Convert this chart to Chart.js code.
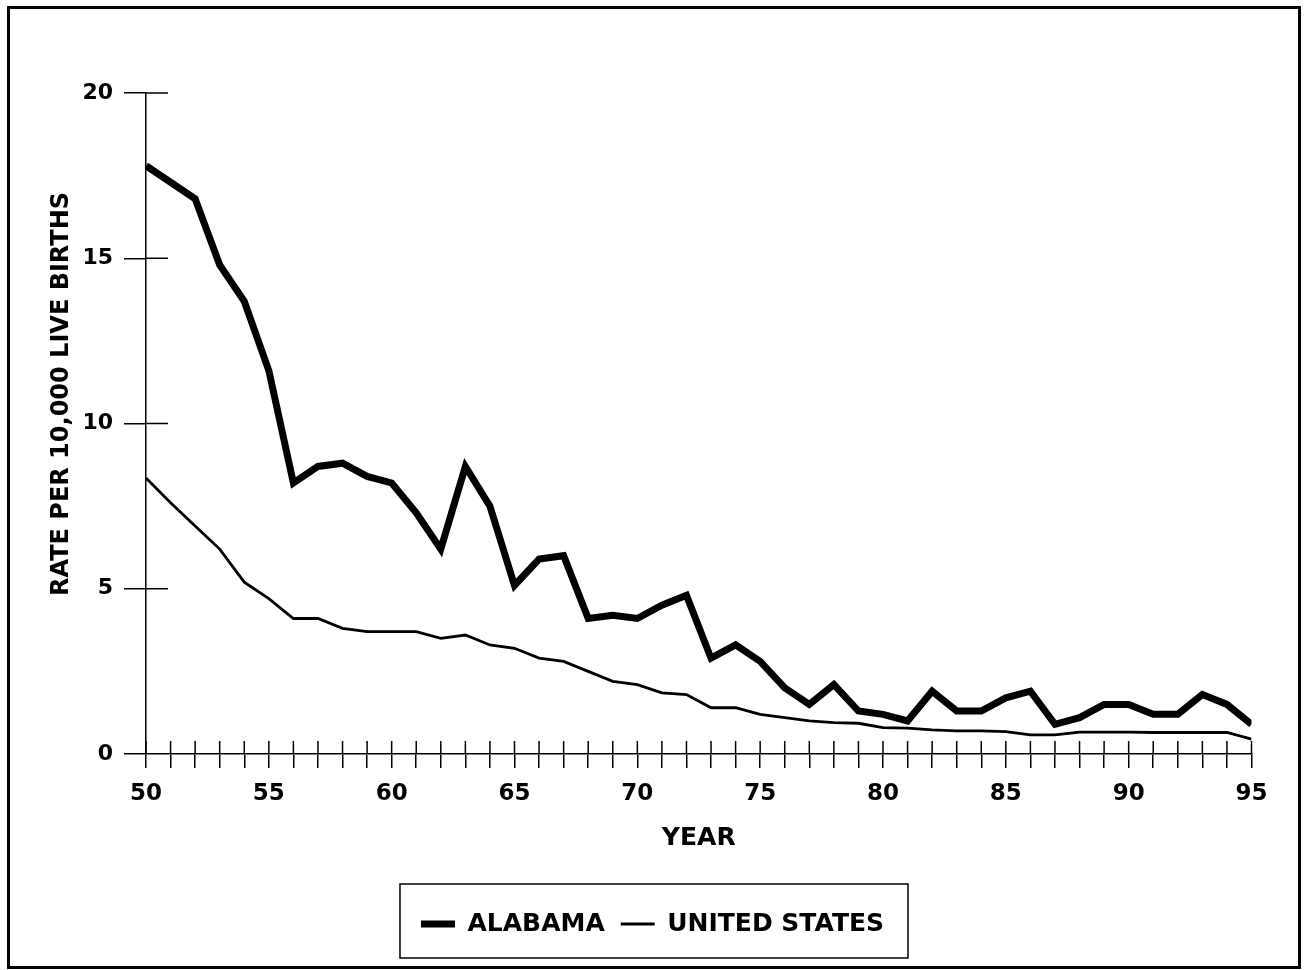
<!DOCTYPE html>
<html>
<head>
<meta charset="utf-8">
<script src="https://cdn.jsdelivr.net/npm/chart.js@4/dist/chart.umd.min.js"></script>
<style>
  html, body { margin: 0; padding: 0; background: #fff; }
  #wrap { position: relative; width: 1305px; height: 970px; }
</style>
</head>
<body>
<div id="wrap"><canvas id="c" width="1305" height="970"></canvas></div>
<script>
const years = [50,51,52,53,54,55,56,57,58,59,60,61,62,63,64,65,66,67,68,69,70,71,72,73,74,75,76,77,78,79,80,81,82,83,84,85,86,87,88,89,90,91,92,93,94,95];
const alabama = [17.8,17.3,16.8,14.8,13.7,11.6,8.2,8.7,8.8,8.4,8.2,7.3,6.2,8.7,7.5,5.1,5.9,6.0,4.1,4.2,4.1,4.5,4.8,2.9,3.3,2.8,2.0,1.5,2.1,1.3,1.2,1.0,1.9,1.3,1.3,1.7,1.9,0.9,1.1,1.5,1.5,1.2,1.2,1.8,1.5,0.9];
const unitedStates = [8.35,7.6,6.9,6.2,5.2,4.7,4.1,4.1,3.8,3.7,3.7,3.7,3.5,3.6,3.3,3.2,2.9,2.8,2.5,2.2,2.1,1.85,1.8,1.4,1.4,1.2,1.1,1.0,0.95,0.93,0.8,0.78,0.73,0.7,0.7,0.68,0.58,0.58,0.66,0.66,0.66,0.65,0.65,0.65,0.65,0.45];
const seriesLabels = ['ALABAMA', 'UNITED STATES'];
const xTickLabels = [50,55,60,65,70,75,80,85,90,95];
const yTickLabels = [0,5,10,15,20];
const xTitle = 'YEAR';
const yTitle = 'RATE PER 10,000 LIVE BIRTHS';

const FONT = '"DejaVu Sans", sans-serif';

const decor = {
  id: 'decor',
  beforeDraw(chart) {
    const ctx = chart.ctx;
    ctx.save();
    ctx.fillStyle = '#fff';
    ctx.fillRect(0, 0, chart.width, chart.height);
    ctx.strokeStyle = '#000';
    ctx.lineWidth = 3;
    ctx.strokeRect(8.5, 7.5, 1291, 960);
    ctx.restore();
  },
  beforeDatasetsDraw(chart) {
    const ctx = chart.ctx;
    const xs = chart.scales.x, ys = chart.scales.y;
    const y0 = ys.getPixelForValue(0);
    const x0 = xs.getPixelForValue(50);
    ctx.save();
    ctx.strokeStyle = '#000';
    ctx.lineWidth = 1.5;
    ctx.beginPath();
    xs.ticks.forEach(t => {
      const px = xs.getPixelForValue(t.value);
      ctx.moveTo(px, y0);
      ctx.lineTo(px, y0 - 13);
    });
    ys.ticks.forEach(t => {
      if (t.value === 0) return;
      const py = ys.getPixelForValue(t.value);
      ctx.moveTo(x0, py);
      ctx.lineTo(x0 + 22, py);
    });
    ctx.stroke();
    ctx.fillStyle = '#000';
    ctx.font = 'bold 24px ' + FONT;
    ctx.textAlign = 'center';
    ctx.textBaseline = 'middle';
    ctx.translate(62, 394);
    ctx.rotate(-Math.PI / 2);
    ctx.fillText(yTitle, 0, 0);
    ctx.restore();
  },
  afterDraw(chart) {
    const lg = chart.legend;
    if (!lg || !lg.legendHitBoxes || !lg.legendHitBoxes.length) return;
    const hb = lg.legendHitBoxes;
    const left = Math.min(...hb.map(h => h.left));
    const right = Math.max(...hb.map(h => h.left + h.width));
    const top = Math.min(...hb.map(h => h.top));
    const bottom = Math.max(...hb.map(h => h.top + h.height));
    const ctx = chart.ctx;
    ctx.save();
    ctx.strokeStyle = '#000';
    ctx.lineWidth = 1.5;
    ctx.strokeRect(left - 21, top - 27.5, (right + 24) - (left - 21), (bottom + 21.5) - (top - 27.5));
    ctx.restore();
  }
};

new Chart(document.getElementById('c'), {
  type: 'line',
  data: {
    labels: years,
    datasets: [
      { label: seriesLabels[0], data: years.map((y, i) => ({x: y, y: alabama[i]})), borderColor: '#000', backgroundColor: '#000', borderWidth: 7, pointRadius: 0, tension: 0, fill: false },
      { label: seriesLabels[1], data: years.map((y, i) => ({x: y, y: unitedStates[i]})), borderColor: '#000', backgroundColor: '#000', borderWidth: 2.8, pointRadius: 0, tension: 0, fill: false }
    ]
  },
  options: {
    responsive: false,
    animation: false,
    layout: { padding: { left: 53.5, right: 53.5, top: 93, bottom: 23.5 } },
    plugins: {
      tooltip: { enabled: false },
      legend: {
        position: 'bottom',
        labels: {
          usePointStyle: true,
          pointStyle: 'line',
          pointStyleWidth: 34,
          boxWidth: 34,
          padding: 16,
          color: '#000',
          font: { family: FONT, size: 25, weight: 'bold' }
        }
      }
    },
    scales: {
      x: {
        type: 'linear',
        min: 50, max: 95,
        afterFit(s) { s.height = 141.5; },
        border: { display: true, color: '#000', width: 1.5 },
        grid: { drawOnChartArea: false, drawTicks: true, tickLength: 14, color: '#000', lineWidth: 1.5 },
        ticks: {
          stepSize: 1, autoSkip: false, maxRotation: 0, padding: 12, color: '#000',
          font: { family: FONT, size: 23, weight: 'bold' },
          callback: v => xTickLabels.includes(v) ? String(v) : ''
        },
        title: { display: true, text: xTitle, color: '#000', font: { family: FONT, size: 25, weight: 'bold' }, padding: { top: 4, bottom: 42 } }
      },
      y: {
        min: 0, max: 20,
        afterFit(s) { s.width = 146 - 53.5; },
        border: { display: true, color: '#000', width: 1.5 },
        grid: { drawOnChartArea: false, drawTicks: true, tickLength: 22, color: '#000', lineWidth: 1.5 },
        ticks: {
          stepSize: 5, padding: 11, color: '#000',
          font: { family: FONT, size: 22, weight: 'bold' },
          callback: v => yTickLabels.includes(v) ? String(v) : ''
        }
      }
    }
  },
  plugins: [decor]
});
</script>
</body>
</html>
